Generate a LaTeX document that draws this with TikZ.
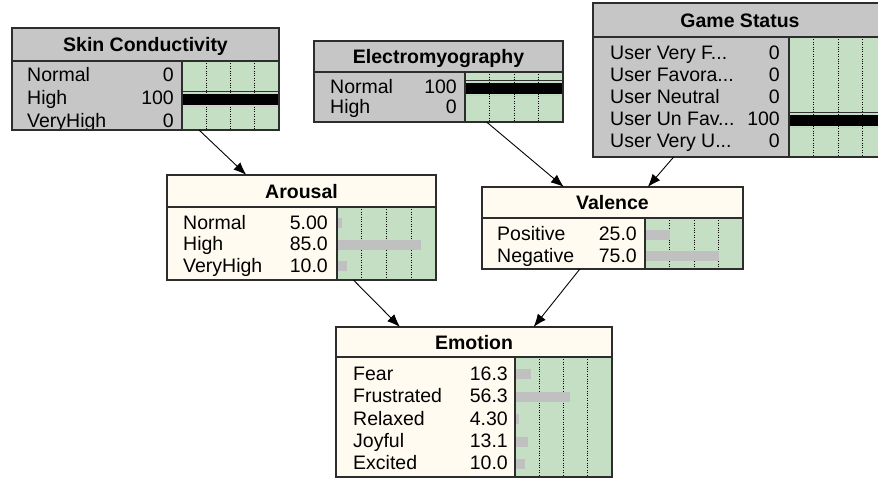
\documentclass[tikz,border=0pt]{standalone}
\usepackage{fontspec}
\setmainfont{Liberation Sans}
\usetikzlibrary{arrows.meta}
\definecolor{bngray}{RGB}{198,198,198}
\definecolor{bngreen}{RGB}{196,223,196}
\definecolor{bnbeige}{RGB}{255,251,240}
\definecolor{bnbarc}{RGB}{192,192,192}
\definecolor{bnedge}{RGB}{45,45,45}
\newcommand\bnell{...}
\tikzset{
  bnbox/.style={rectangle, inner sep=0pt, outer sep=0pt, anchor=north west},
  bnline/.style={draw=bnedge, line width=1.2pt},
  bndot/.style={draw=black, dash pattern=on 1pt off 1.4pt, line width=0.9pt},
  bntitle/.style={anchor=base, inner sep=0pt, font=\fontsize{19.5}{22}\selectfont\bfseries},
  bnlab/.style={anchor=base west, inner sep=0pt, font=\fontsize{19.5}{22}\selectfont},
  bnnum/.style={anchor=base east, inner sep=0pt, font=\fontsize{19.5}{22}\selectfont},
  bnbar/.style={fill=bnbarc},
  bnarrow/.style={draw=black, line width=0.9pt, -{Latex[length=13pt,width=10pt]}},
}
% #1 name, #2 L, #3 T, #4 R, #5 title bottom, #6 bottom, #7 bar left, #8 fill, #9 title
\newcommand\bnframe[9]{%
  \pgfmathsetmacro\bnW{#4-#2}\pgfmathsetmacro\bnH{#6-#3}%
  \node[bnbox, fill=#8, minimum width=\bnW pt, minimum height=\bnH pt] (#1) at (#2,#3) {};
  \fill[bngreen] (#7,#5) rectangle (#4,#6);
  \foreach \k in {1,2,3} {\draw[bndot] ({#7+\k*(#4-#7)/4},#5) -- ({#7+\k*(#4-#7)/4},#6);}
  \node[bntitle] at ({(#2+#4)/2},{(#3+#5)/2+7.5}) {#9};
}
% #1 label x, #2 number x, #3 bar left, #4 bar width, #5 list bl/label/value/pct
\newcommand\bnrows[5]{%
  \foreach \bl/\lab/\val/\pc in {#5} {%
    \ifdim\pc pt>0pt \fill[bnbar] (#3+1,\bl-11) rectangle ({#3+\pc*#4/100},\bl-1);\fi
    \node[bnlab] at (#1,\bl) {\lab};
    \node[bnnum] at (#2,\bl) {\val};
  }%
}
% #1 bar left, #2 right, #3 baseline
\newcommand\bnfull[3]{%
  \fill[black] (#1+1,#3-10.5) rectangle (#2,#3);
  \draw[black!80, line width=1pt] (#1+1,#3-13.5) -- (#2,#3-13.5);
  \draw[white!80!black, line width=1pt] (#1+1,#3+1.5) -- (#2,#3+1.5);
}
% #1 name, #2 L, #3 R, #4 title bottom, #5 bottom, #6 bar left
\newcommand\bnclose[6]{%
  \draw[bnline] (#2,#4) -- (#3,#4) (#6,#4) -- (#6,#5);
  \draw[bnline] (#1.north west) rectangle (#1.south east);
}
\begin{document}
\begin{tikzpicture}[x=1pt, y=-1pt]
\useasboundingbox (0,0) rectangle (878,478);
\clip (0,0) rectangle (878,478);
\fill[white] (0,0) rectangle (878,478);

% Skin Conductivity
\bnframe{sc}{12}{28}{279}{61}{130}{182}{bngray}{Skin Conductivity}
\bnrows{27}{174}{182}{97}{82/Normal/0/0, 105/High/100/0, 128/VeryHigh/0/0}
\bnfull{182}{279}{105}
\bnclose{sc}{12}{279}{61}{130}{182}

% Electromyography
\bnframe{em}{314}{41}{563}{72}{122}{465}{bngray}{Electromyography}
\bnrows{330}{457}{465}{98}{94/Normal/100/0, 114/High/0/0}
\bnfull{465}{563}{94}
\bnclose{em}{314}{563}{72}{122}{465}

% Game Status
\bnframe{gs}{593}{3}{887}{37}{157}{789}{bngray}{Game Status}
\bnrows{610}{780}{789}{98}{60/User Very F\bnell/0/0, 82/User Favora\bnell/0/0, 104/User Neutral/0/0, 126/User Un Fav\bnell/100/0, 148/User Very U\bnell/0/0}
\bnfull{789}{887}{126}
\bnclose{gs}{593}{887}{37}{157}{789}

% Arousal
\bnframe{ar}{167}{175}{436}{207}{280}{337}{bnbeige}{Arousal}
\bnrows{183}{328}{337}{99}{229.5/Normal/5.00/5, 251/High/85.0/85, 272.5/VeryHigh/10.0/10}
\bnclose{ar}{167}{436}{207}{280}{337}

% Valence
\bnframe{va}{482}{187}{743}{218}{269}{645}{bnbeige}{Valence}
\bnrows{497}{637}{645}{98}{241/Positive/25.0/25, 262.5/Negative/75.0/75}
\bnclose{va}{482}{743}{218}{269}{645}

% Emotion
\bnframe{emo}{336}{327}{612}{357}{477}{515}{bnbeige}{Emotion}
\bnrows{353}{508}{515}{97}{380/Fear/16.3/16.3, 402.5/Frustrated/56.3/56.3, 425/Relaxed/4.30/4.3, 447.5/Joyful/13.1/13.1, 469.5/Excited/10.0/10}
\bnclose{emo}{336}{612}{357}{477}{515}

% connectors
\draw[bnarrow] (sc) -- (ar);
\draw[bnarrow] (em) -- (va);
\draw[bnarrow] (gs) -- (va);
\draw[bnarrow] (ar) -- (emo);
\draw[bnarrow] (va) -- (emo);
\end{tikzpicture}
\end{document}
